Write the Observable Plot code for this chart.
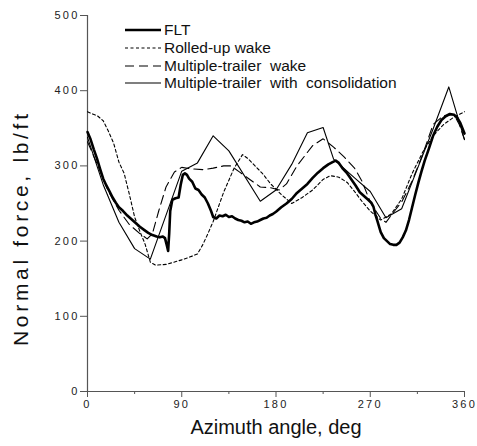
<!DOCTYPE html>
<html><head><meta charset="utf-8">
<script src="https://cdn.jsdelivr.net/npm/d3@7"></script>
<script src="https://cdn.jsdelivr.net/npm/@observablehq/plot@0.6"></script>
<style>
body{margin:0;background:#fff}
svg{font-family:"Liberation Sans",Arial,Helvetica,sans-serif}
</style>
</head><body><div id="chart"></div>
<script>
// ---- data (azimuth angle in deg, normal force in lb/ft) ----
const fltAngle = [0,3,6,9,12,15,18,21,24,27,30,34,38,42,46,50,54,58,62,66,69,72,74,76,77,78,79,81,84,87,89,91,93,95,97,100,103,106,109,112,115,118,120,123,126,129,132,135,138,141,144,147,150,153,156,159,162,165,168,171,174,177,180,185,190,195,200,205,210,215,220,225,230,234,237,240,244,248,252,256,260,264,268,271,273,275,277,280,283,286,289,292,295,298,301,304,307,310,313,316,319,322,326,330,334,338,342,346,350,353,356,358,360];
const fltValue = [345,335,322,310,296,283,274,266,258,251,245,240,234,229,224,219,215,211,208,206,205,206,204,193,187,210,240,255,257,258,275,288,290,288,283,279,270,268,262,258,250,240,232,230,234,233,235,232,233,230,228,227,225,226,223,225,226,228,230,231,234,236,239,245,250,256,264,270,276,284,291,297,302,305,307,304,296,290,282,274,265,260,255,251,246,235,226,212,204,200,196,195,195,198,205,214,228,245,262,278,293,307,323,340,352,361,366,369,368,364,357,350,343];

const rolledAngle = [0,10,15,20,25,30,35,40,45,50,55,60,65,75,90,100,105,110,115,120,130,140,148,153,160,167,175,185,195,205,215,225,232,240,248,255,262,270,280,290,300,310,320,330,340,350,360];
const rolledValue = [372,366,360,346,330,305,290,262,232,213,196,172,168,169,175,180,183,195,210,226,265,297,315,310,300,290,276,262,250,258,268,282,287,285,278,266,253,240,228,236,256,290,318,340,355,365,372];

const trailerAngle = [0,10,20,30,40,50,57,62,68,75,83,90,100,110,120,130,137,145,155,165,175,183,190,200,215,225,235,245,255,262,270,280,285,292,300,310,320,330,340,350,355,360];
const trailerValue = [332,300,266,241,222,210,203,210,240,272,292,298,296,295,297,300,300,292,282,272,271,268,276,300,327,336,325,312,297,280,252,230,225,238,252,280,315,355,367,368,355,335];

const consolAngle = [0,15,30,45,60,90,105,120,135,165,180,195,210,225,235,255,270,285,300,315,330,345,360];
const consolValue = [338,275,225,190,176,293,304,340,320,253,268,302,344,351,309,284,266,231,243,296,349,405,335];

const yTicks = [0,100,200,300,400,500];
const xTicks = [0,90,180,270,360];
const xMinorTicks = [45,135,225,315];

const seriesNames = ["FLT","Rolled-up wake","Multiple-trailer  wake","Multiple-trailer  with  consolidation"];
const xTitle = "Azimuth angle, deg";
const yTitle = "Normal force, lb/ft";

const toRows = (a, v) => a.map((d, i) => ({a: d, v: v[i]}));
const flt = toRows(fltAngle, fltValue);
const rolled = toRows(rolledAngle, rolledValue);
const trailer = toRows(trailerAngle, trailerValue);
const consol = toRows(consolAngle, consolValue);

const styles = [
  {stroke:"#000", strokeWidth:2.6, dash:null},
  {stroke:"#000", strokeWidth:1.1, dash:"3,2.5"},
  {stroke:"#000", strokeWidth:1.1, dash:"9,5"},
  {stroke:"#000", strokeWidth:1.1, dash:null}
];

const axisColor = "#555";
const chart = Plot.plot({
  width: 477, height: 446,
  marginLeft: 87, marginRight: 13, marginTop: 15, marginBottom: 55,
  style: {fontFamily: "Liberation Sans, Arial, sans-serif", background: "#fff", color: "#222"},
  x: {domain: [0, 360]},
  y: {domain: [0, 500]},
  marks: [
    Plot.axisY({ticks: yTicks, tickSize: 7, tickPadding: 1, fontSize: 11, label: null, stroke: axisColor, fill: "#222"}),
    Plot.axisX({ticks: xTicks, tickSize: 6, tickPadding: 3, fontSize: 11, label: null, stroke: axisColor, fill: "#222"}),
    Plot.axisX({ticks: xMinorTicks, tickSize: 3, text: null, label: null, stroke: axisColor}),
    Plot.ruleX([0], {stroke: axisColor, strokeWidth: 1.2}),
    Plot.ruleY([0], {stroke: axisColor, strokeWidth: 1.2}),
    Plot.line(rolled, {x: "a", y: "v", stroke: styles[1].stroke, strokeWidth: styles[1].strokeWidth, strokeDasharray: styles[1].dash}),
    Plot.line(trailer, {x: "a", y: "v", stroke: styles[2].stroke, strokeWidth: styles[2].strokeWidth, strokeDasharray: styles[2].dash}),
    Plot.line(consol, {x: "a", y: "v", stroke: styles[3].stroke, strokeWidth: styles[3].strokeWidth}),
    Plot.line(flt, {x: "a", y: "v", stroke: styles[0].stroke, strokeWidth: styles[0].strokeWidth, strokeLinejoin: "round"})
  ]
});

const svg = d3.select(chart);
svg.selectAll('g[aria-label$="tick label"] text').attr("letter-spacing", "2.2");

// axis titles
svg.append("text")
  .attr("x", 276).attr("y", 434)
  .attr("text-anchor", "middle")
  .attr("font-size", 20).attr("fill", "#111")
  .text(xTitle);
svg.append("text")
  .attr("transform", "translate(28,230) rotate(-90)")
  .attr("text-anchor", "middle")
  .attr("font-size", 21).attr("fill", "#111")
  .attr("textLength", 232).attr("lengthAdjust", "spacing")
  .text(yTitle);

// legend
const lg = svg.append("g").attr("text-anchor", "start");
const rowY = [30, 48, 66, 83];
seriesNames.forEach((name, i) => {
  const s = styles[i];
  lg.append("line").attr("x1", 125).attr("x2", 161).attr("y1", rowY[i]).attr("y2", rowY[i])
    .attr("stroke", s.stroke).attr("stroke-width", s.strokeWidth)
    .attr("stroke-dasharray", s.dash);
  lg.append("text").attr("x", 164).attr("y", rowY[i]).attr("dy", "0.35em")
    .attr("text-anchor", "start").attr("xml:space", "preserve").style("white-space", "pre")
    .attr("font-size", 15.5).attr("fill", "#111").text(name);
});

document.getElementById("chart").appendChild(chart);
</script>
</body></html>
